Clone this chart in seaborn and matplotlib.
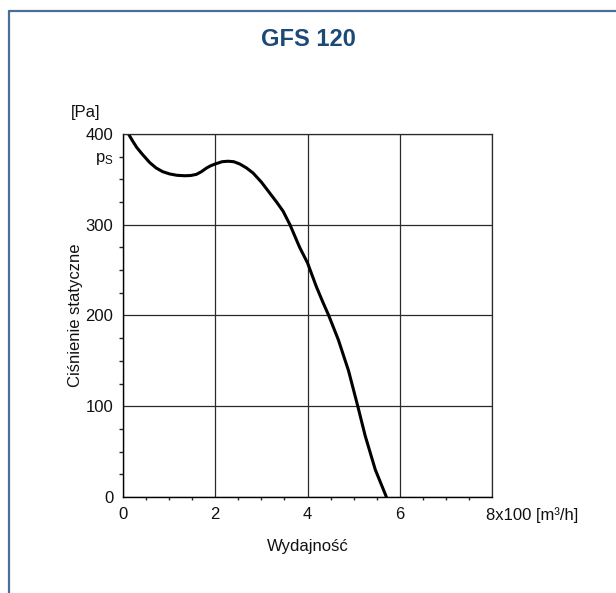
import numpy as np
import pandas as pd
import seaborn as sns
import matplotlib.pyplot as plt
from matplotlib.lines import Line2D
from matplotlib.transforms import ScaledTranslation

# fan curve (flow in x100 m3/h, static pressure in Pa)
flow = [0.12, 0.2, 0.3, 0.43, 0.58, 0.72, 0.86, 1.01, 1.17, 1.34, 1.47, 1.59, 1.7,
        1.81, 1.9, 2.0, 2.15, 2.28, 2.4, 2.53, 2.68, 2.82, 3.0, 3.18, 3.33, 3.47,
        3.62, 3.83, 4.0, 4.19, 4.33, 4.46, 4.67, 4.89, 5.09, 5.25, 5.47, 5.71]
pressure = [400, 393, 385, 377, 368.5, 362.5, 358.5, 356, 354.5, 354, 354.3, 355.5, 358.5,
            362.5, 365, 367, 369.5, 370, 369.5, 367, 362.5, 357, 347, 335, 325, 315,
            300, 275, 258, 232, 215, 200, 173, 139, 100, 67.5, 30, 0]

x_ticks = [0, 2, 4, 6, 8]
x_labels = ['0', '2', '4', '6', '8x100 [m³/h]']
y_ticks = [0, 100, 200, 300, 400]
y_labels = ['0', '100', '200', '300', '400']

title = 'GFS 120'
x_title = 'Wydajność'
y_title = 'Ciśnienie statyczne'

sns.set_theme(style='white')
plt.rcParams['font.family'] = ['Liberation Sans', 'DejaVu Sans']
plt.rcParams['mathtext.fontset'] = 'custom'
plt.rcParams['mathtext.rm'] = 'Liberation Sans'

df = pd.DataFrame({'flow': flow, 'pressure': pressure})

fig = plt.figure(figsize=(6.16, 5.93), dpi=100)
ax = fig.add_axes([0.1997, 0.162, 0.599, 0.612])

sns.lineplot(data=df, x='flow', y='pressure', sort=False, estimator=None,
             color='black', linewidth=2.2, ax=ax)

ax.set_xlim(0, 8)
ax.set_ylim(0, 400)
ax.set_xticks(x_ticks, labels=x_labels)
ax.set_yticks(y_ticks, labels=y_labels)
ax.set_xticks(np.arange(0, 8.01, 0.5), minor=True)
y_minor = np.arange(0, 401, 25)
ax.set_yticks(y_minor, labels=[r'$\mathrm{p_S}$' if v == 375 else '' for v in y_minor],
              minor=True)

ax.grid(True, which='major', color='#2a2a2a', linewidth=0.9)
for side in ['top', 'right']:
    ax.spines[side].set_color('#2a2a2a')
    ax.spines[side].set_linewidth(0.9)
for side in ['left', 'bottom']:
    ax.spines[side].set_color('black')
    ax.spines[side].set_linewidth(1)

ax.tick_params(axis='both', which='major', labelsize=12, colors='black',
               labelcolor='#111111', direction='out', width=1)
ax.tick_params(axis='y', which='major', length=6, pad=1)
ax.tick_params(axis='y', which='minor', length=3, width=1, labelsize=12, pad=4,
               left=True, labelcolor='#111111')
ax.tick_params(axis='x', which='major', length=4, pad=3)
ax.tick_params(axis='x', which='minor', length=2.5, width=1, bottom=True)

last = ax.get_xticklabels()[-1]
last.set_ha('left')
last.set_transform(last.get_transform() + ScaledTranslation(-6 / 100, 0, fig.dpi_scale_trans))

ax.set_xlabel(x_title, fontsize=12, color='#111111', labelpad=12)
ax.set_ylabel(y_title, fontsize=12, color='#111111', labelpad=2)
ax.text(-0.1, 1.06, '[Pa]', transform=ax.transAxes, fontsize=12, color='#111111',
        ha='center', va='center')

fig.text(0.5, 0.933, title, fontsize=17, fontweight='bold', color='#1d4a75',
         ha='center', va='center', family=['Liberation Sans Narrow', 'Liberation Sans'])

# blue frame round the sheet (left and top edges)
fig.add_artist(Line2D([8.5 / 616, 8.5 / 616], [0, 1 - 10.5 / 593], color='#4a6f94',
                      linewidth=1.6, transform=fig.transFigure))
fig.add_artist(Line2D([8.5 / 616, 1], [1 - 10.5 / 593, 1 - 10.5 / 593], color='#4a6f94',
                      linewidth=1.6, transform=fig.transFigure))

fig.savefig('out.png', dpi=100, facecolor='white')
